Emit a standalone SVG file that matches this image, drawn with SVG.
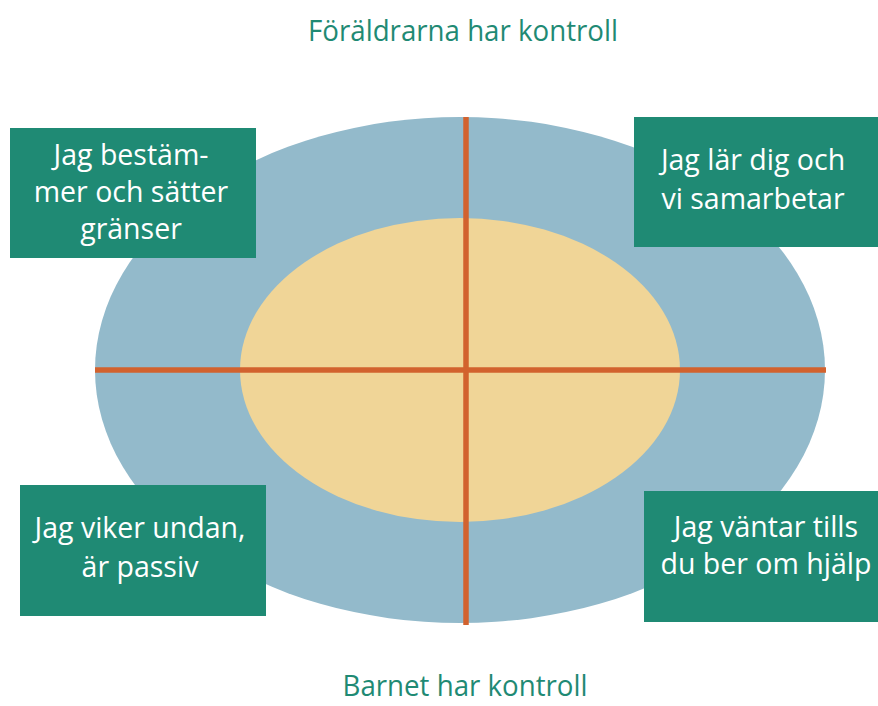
<svg xmlns="http://www.w3.org/2000/svg" width="878" height="706" viewBox="0 0 878 706">
<style>
.box{fill:#1f8a74}
.bt{fill:#ffffff;font-family:"Open Sans","Liberation Sans",sans-serif;font-size:28.5px;text-anchor:middle}
.tt{fill:#1f8a74;font-family:"Open Sans","Liberation Sans",sans-serif;font-size:30px;text-anchor:middle}
.ax{stroke:#d2622e;stroke-width:5.5}
</style>
<rect width="878" height="706" fill="#ffffff"/>
<g id="diagram">
<ellipse id="outer" cx="460" cy="370" rx="365" ry="253" fill="#93bacb"/>
<ellipse id="inner" cx="460" cy="370" rx="220" ry="152" fill="#f0d597"/>
</g>
<g id="connectors">
<line class="ax" x1="466" y1="117" x2="466" y2="625"/>
<line class="ax" x1="95" y1="370" x2="826" y2="370"/>
</g>
<g id="title-top"><text class="tt" x="463" y="41" textLength="310" lengthAdjust="spacingAndGlyphs">Föräldrarna har kontroll</text></g>
<g id="title-bottom"><text class="tt" x="465" y="696" textLength="245" lengthAdjust="spacingAndGlyphs">Barnet har kontroll</text></g>
<g id="node-tl">
<rect class="box" x="10" y="128" width="246" height="130"/>
<text class="bt" x="131" y="165">Jag bestäm-</text>
<text class="bt" x="131" y="202">mer och sätter</text>
<text class="bt" x="131" y="239">gränser</text>
</g>
<g id="node-tr">
<rect class="box" x="634" y="117" width="244" height="130"/>
<text class="bt" x="753" y="170">Jag lär dig och</text>
<text class="bt" x="753" y="209">vi samarbetar</text>
</g>
<g id="node-bl">
<rect class="box" x="20" y="485" width="246" height="131"/>
<text class="bt" x="140" y="538">Jag viker undan,</text>
<text class="bt" x="140" y="577">är passiv</text>
</g>
<g id="node-br">
<rect class="box" x="644" y="491" width="234" height="131"/>
<text class="bt" x="766" y="537">Jag väntar tills</text>
<text class="bt" x="766" y="574">du ber om hjälp</text>
</g>
</svg>
